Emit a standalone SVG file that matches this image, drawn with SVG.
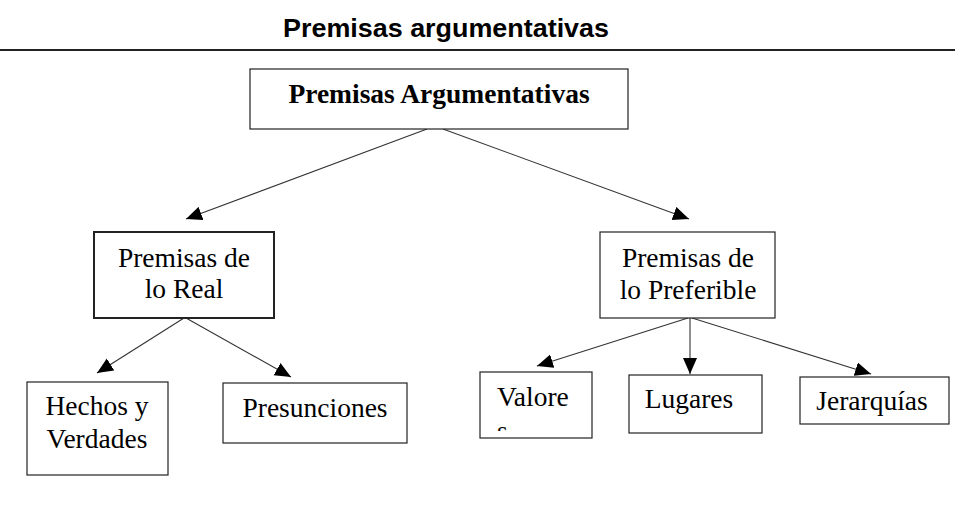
<svg xmlns="http://www.w3.org/2000/svg" width="955" height="508" viewBox="0 0 955 508">
<style>
.box{fill:#fff;stroke:#222;stroke-width:1.2}
.thick{stroke-width:2}
.lbl{font-family:"Liberation Serif","Times New Roman",serif;font-size:27.5px;fill:#000;text-anchor:middle}
.conn{stroke:#333;stroke-width:1.1;fill:none;marker-end:url(#ah)}
</style>
<defs>
<marker id="ah" markerUnits="userSpaceOnUse" markerWidth="17" markerHeight="15" refX="16" refY="7" orient="auto" viewBox="0 0 17 14">
<path d="M0,0 L16,7 L0,14 z" fill="#000"/>
</marker>
<clipPath id="clipV"><rect x="481" y="373" width="110" height="58"/></clipPath>
</defs>
<rect width="955" height="508" fill="#fff"/>
<text x="446" y="37" font-family="'Liberation Sans',Arial,sans-serif" font-weight="bold" font-size="25.5" text-anchor="middle" textLength="326" lengthAdjust="spacingAndGlyphs">Premisas argumentativas</text>
<line x1="0" y1="50" x2="955" y2="50" stroke="#222" stroke-width="2"/>
<g id="connectors">
<line class="conn" x1="427" y1="129" x2="186" y2="219"/>
<line class="conn" x1="443" y1="129" x2="689" y2="219"/>
<line class="conn" x1="184" y1="318" x2="97" y2="373"/>
<line class="conn" x1="186" y1="318" x2="291" y2="377"/>
<line class="conn" x1="688" y1="318" x2="537" y2="366"/>
<line class="conn" x1="690" y1="318" x2="690" y2="374"/>
<line class="conn" x1="692" y1="318" x2="871" y2="374"/>
</g>
<g id="n-root">
<rect class="box" x="250" y="69" width="378" height="60"/>
<text class="lbl" x="439" y="103" font-weight="bold" font-size="27">Premisas Argumentativas</text>
</g>
<g id="n-real">
<rect class="box thick" x="94" y="232" width="180" height="86"/>
<text class="lbl" x="184" y="267">Premisas de</text>
<text class="lbl" x="184" y="298">lo Real</text>
</g>
<g id="n-preferible">
<rect class="box" x="600" y="232" width="175" height="86"/>
<text class="lbl" x="688" y="267">Premisas de</text>
<text class="lbl" x="688" y="299">lo Preferible</text>
</g>
<g id="n-hechos">
<rect class="box" x="27" y="382" width="141" height="93"/>
<text class="lbl" x="97" y="415">Hechos y</text>
<text class="lbl" x="97" y="448">Verdades</text>
</g>
<g id="n-presunciones">
<rect class="box" x="223" y="383" width="184" height="60"/>
<text class="lbl" x="315" y="417">Presunciones</text>
</g>
<g id="n-valores">
<rect class="box" x="480" y="372" width="112" height="66"/>
<g clip-path="url(#clipV)">
<text class="lbl" x="497" y="406" style="text-anchor:start">Valore</text>
<text class="lbl" x="497" y="440" style="text-anchor:start">s</text>
</g>
</g>
<g id="n-lugares">
<rect class="box" x="629" y="375" width="133" height="58"/>
<text class="lbl" x="689" y="408">Lugares</text>
</g>
<g id="n-jerarquias">
<rect class="box" x="800" y="377" width="149" height="47"/>
<text class="lbl" x="872" y="410">Jerarquías</text>
</g>
</svg>
